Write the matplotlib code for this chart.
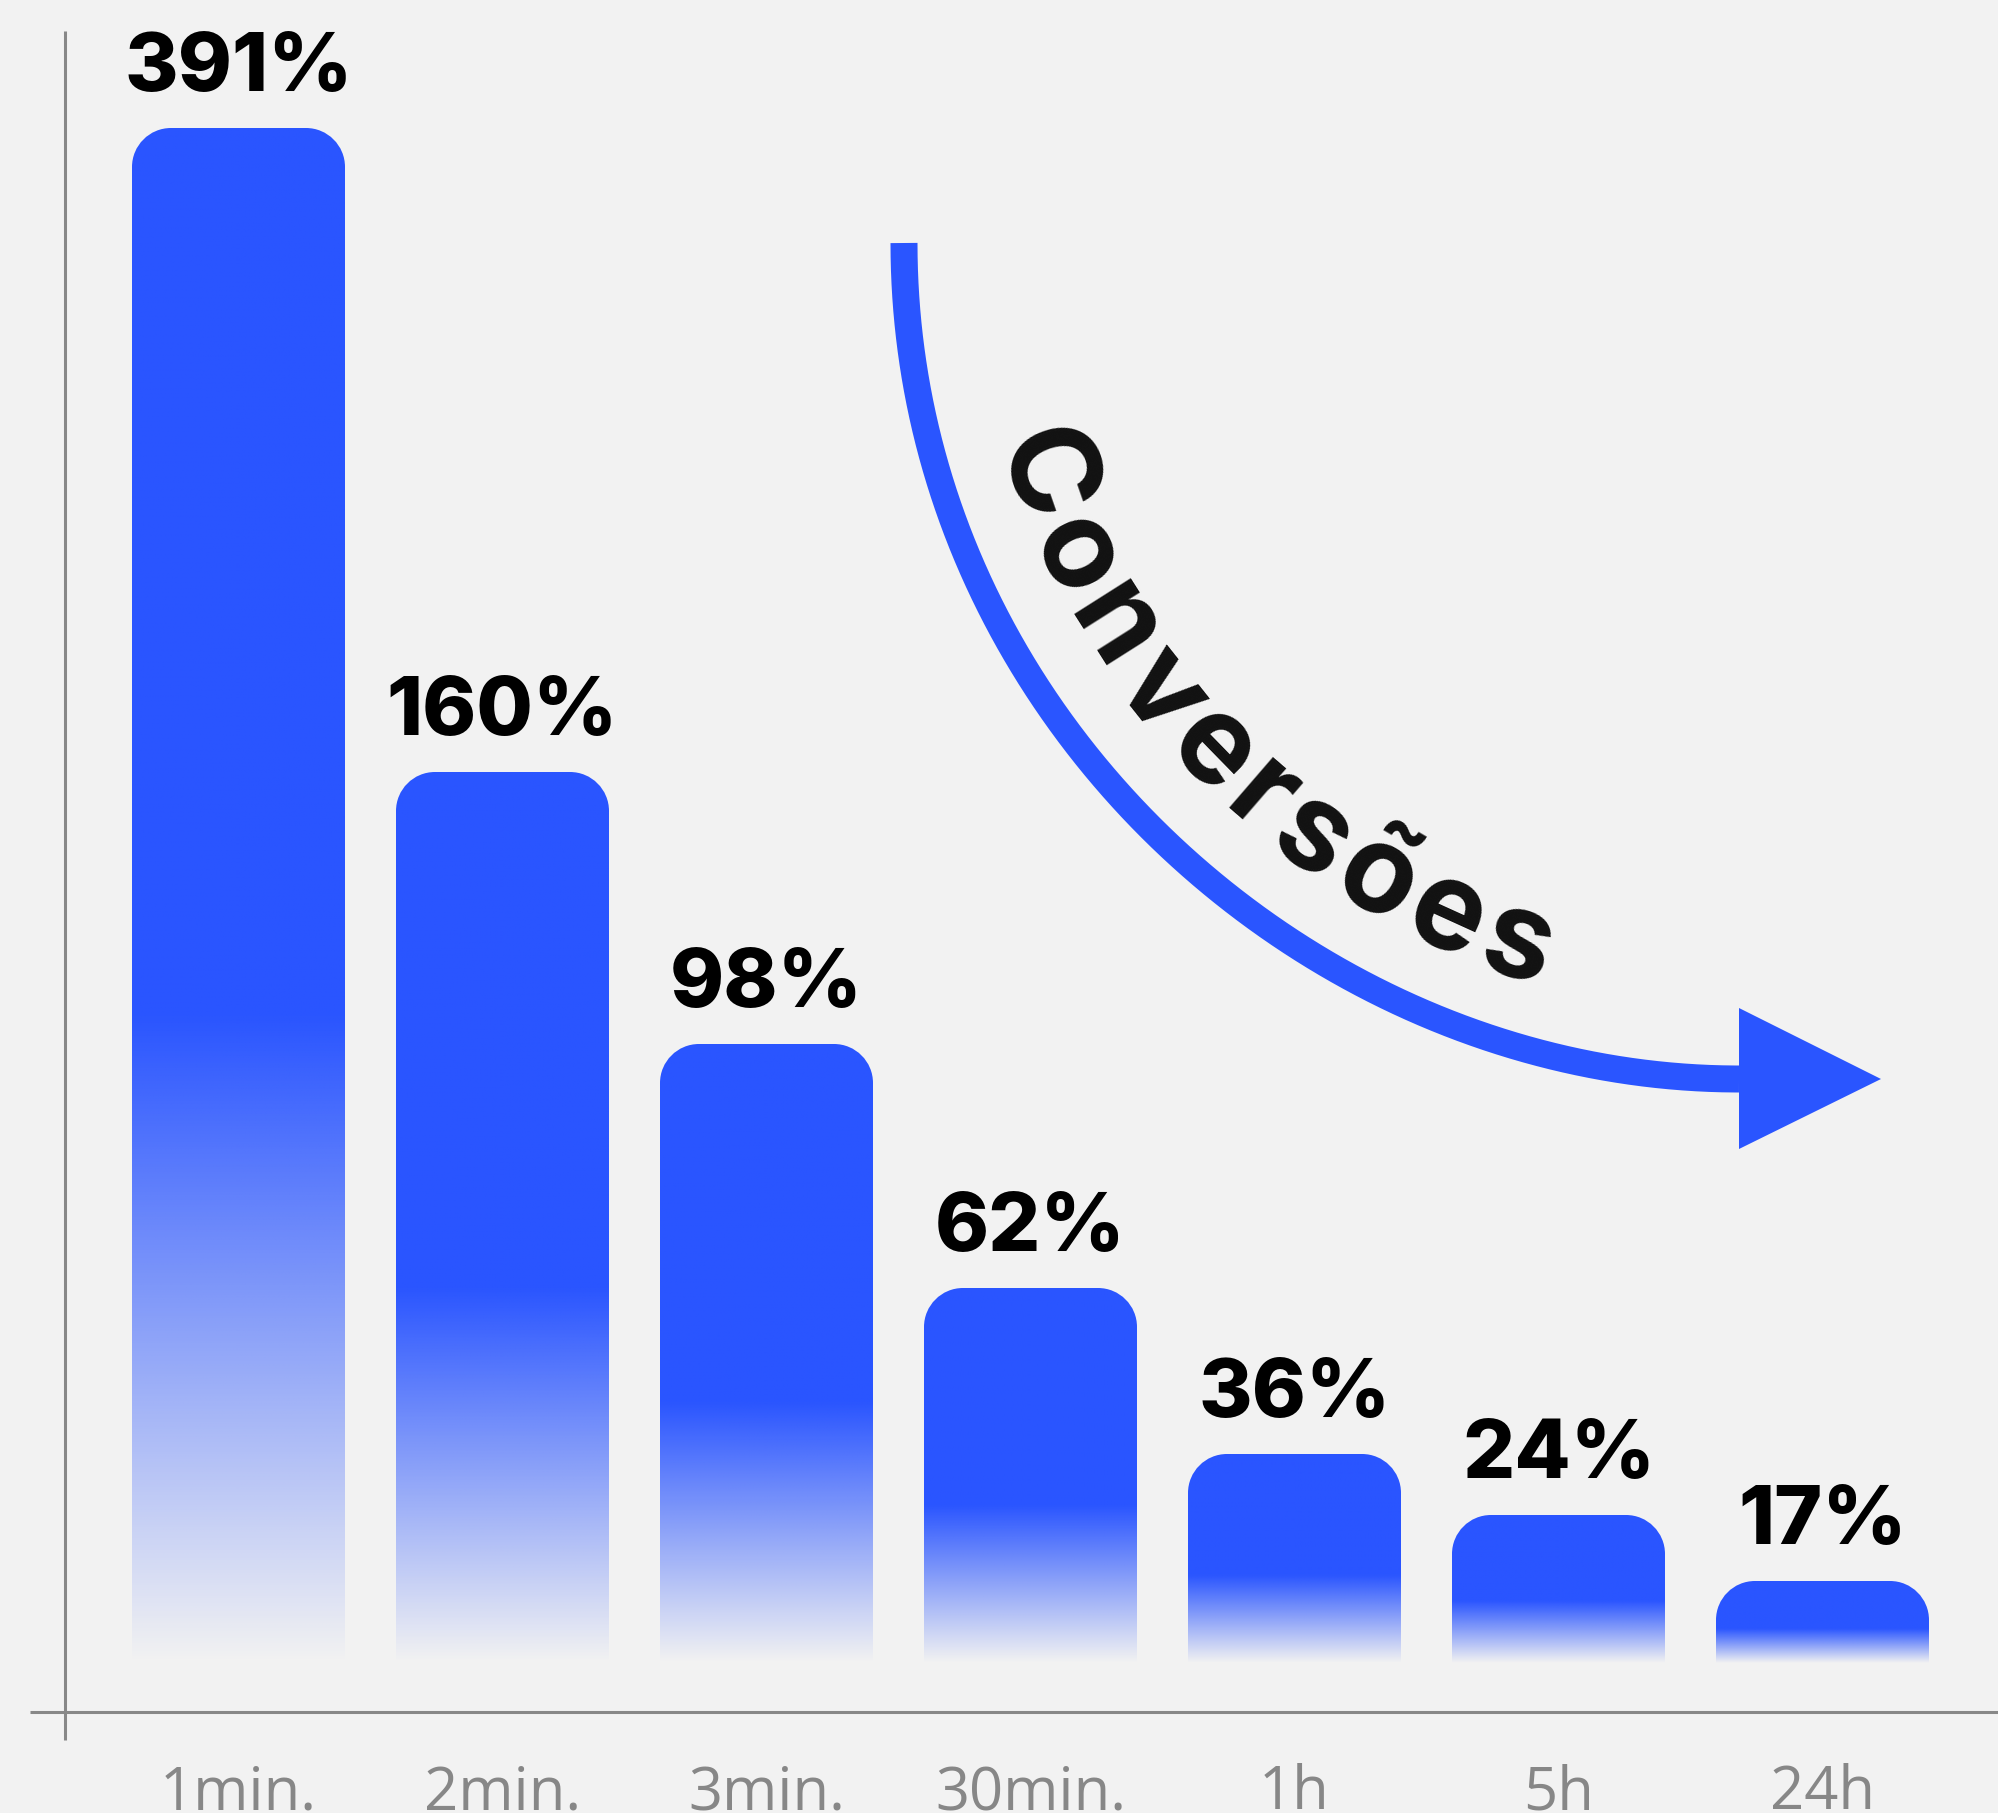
import numpy as np
import matplotlib
matplotlib.use('Agg')
import matplotlib.pyplot as plt
from matplotlib.path import Path
from matplotlib.patches import PathPatch, Polygon
from matplotlib.font_manager import FontProperties
from matplotlib.textpath import TextToPath
from matplotlib.colors import to_rgb

# ---------------- data ----------------
categories = ['1min.', '2min.', '3min.', '30min.', '1h', '5h', '24h']
values = [391, 160, 98, 62, 36, 24, 17]
value_labels = [f'{v}%' for v in values]
# drawn bar heights (chart units)
bar_heights = [1535, 891, 619, 375, 209, 148, 82]
annotation = 'Conversões'

# ---------------- style ----------------
W, H = 1998, 1813
BG = '#F2F2F2'
BLUE = '#2A55FF'
GREY = '#878787'
FONT = 'Inter'
TICK_FONT = 'Open Sans'

fig = plt.figure(figsize=(W / 100, H / 100), dpi=100)
fig.patch.set_facecolor(BG)

# main axes (bars)
L, R, B = 106.5, 1954.5, 1663
ax = fig.add_axes([L / W, (H - B) / H, (R - L) / W, B / H])
ax.set_facecolor('none')
for s in ax.spines.values():
    s.set_visible(False)
n = len(categories)
ymax = 1663
bw = 213 / 264
rx, ry = 39 / 264, 39
k = 0.5523

grad = np.zeros((400, 1, 4))
grad[..., :3] = to_rgb(BLUE)
frac = np.linspace(0, 1, 400)
grad[:, 0, 3] = np.clip(frac / 0.42, 0, 1)

for i, h in enumerate(bar_heights):
    x0, x1 = i - bw / 2, i + bw / 2
    verts = [(x0, 0), (x0, h - ry), (x0, h - ry + k * ry), (x0 + rx - k * rx, h), (x0 + rx, h),
             (x1 - rx, h), (x1 - rx + k * rx, h), (x1, h - ry + k * ry), (x1, h - ry),
             (x1, 0), (x0, 0)]
    codes = [Path.MOVETO, Path.LINETO, Path.CURVE4, Path.CURVE4, Path.CURVE4,
             Path.LINETO, Path.CURVE4, Path.CURVE4, Path.CURVE4, Path.LINETO, Path.CLOSEPOLY]
    patch = PathPatch(Path(verts, codes), fc='none', ec='none', transform=ax.transData)
    ax.add_patch(patch)
    im = ax.imshow(grad, extent=[x0, x1, 0, h], origin='lower', aspect='auto',
                   interpolation='bilinear', zorder=2)
    im.set_clip_path(patch)
    ax.text(i, h + 37, value_labels[i], ha='center', va='baseline', fontsize=59,
            fontweight='heavy', family=FONT, color='#000000', zorder=3)

ax.set_xlim(-0.5, n - 0.5)
ax.set_ylim(0, ymax)
ax.set_aspect('auto')
ax.set_yticks([])
ax.set_xticks(range(n), categories)
ax.tick_params(axis='x', length=0, pad=72, labelsize=43, labelcolor=GREY)
for lab in ax.get_xticklabels():
    lab.set_family(TICK_FONT)
    lab.set_fontweight('normal')

# overlay in pixel coordinates for axis lines & arrow annotation
ov = fig.add_axes([0, 0, 1, 1], zorder=5)
ov.set_xlim(0, W)
ov.set_ylim(H, 0)
ov.axis('off')
ov.patch.set_visible(False)

ov.plot([65, 65], [31, 1740], color='#888888', lw=2.2, solid_capstyle='butt')
ov.plot([30, W], [1712, 1712], color='#888888', lw=2.2, solid_capstyle='butt')

# curved arrow
P0 = np.array([904.0, 243.0])
P3 = np.array([1739.0, 1079.0])
P1 = P0 + np.array([0, 470.0])
P2 = P3 - np.array([430.0, 0])
t = np.linspace(0, 1, 3000)[:, None]
pts = (1 - t) ** 3 * P0 + 3 * (1 - t) ** 2 * t * P1 + 3 * (1 - t) * t ** 2 * P2 + t ** 3 * P3
der = 3 * (1 - t) ** 2 * (P1 - P0) + 6 * (1 - t) * t * (P2 - P1) + 3 * t ** 2 * (P3 - P2)
ov.plot(pts[:, 0], pts[:, 1], color=BLUE, lw=27 * 0.72, solid_capstyle='butt')
ov.add_patch(Polygon([(1739, 1008), (1739, 1149), (1881, 1079)], closed=True,
                     fc=BLUE, ec='none'))

# text along the curve
Tn = der / np.linalg.norm(der, axis=1)[:, None]
Nn = np.stack([Tn[:, 1], -Tn[:, 0]], axis=1)
off = 64
q = pts + off * Nn
sarc = np.concatenate([[0], np.cumsum(np.hypot(*np.diff(q, axis=0).T))])
dq = np.gradient(q, axis=0)
ang = np.degrees(np.arctan2(-dq[:, 1], dq[:, 0]))

fs_px = 122
fp = FontProperties(family=FONT, weight='bold', size=fs_px)
ttp = TextToPath()


def tw(s):
    if not s:
        return 0.0
    return ttp.get_text_width_height_descent(s, fp, ismath=False)[0]


cap_c = 43
target = np.array([1055.0, 471.0])
j = np.argmin(np.hypot(*(q + cap_c * Nn - target).T))
s0 = sarc[j] - tw(annotation[0]) / 2
track = 9
for i, ch in enumerate(annotation):
    sc = s0 + (tw(annotation[:i]) + tw(annotation[:i + 1])) / 2 + i * track
    idx = int(np.clip(np.searchsorted(sarc, sc), 0, len(sarc) - 1))
    ov.text(q[idx, 0], q[idx, 1], ch, ha='center', va='baseline', rotation=ang[idx],
            rotation_mode='anchor', fontsize=fs_px * 0.72, fontweight='bold',
            family=FONT, color='#111111')

fig.savefig('out.png', dpi=100, facecolor=BG)
